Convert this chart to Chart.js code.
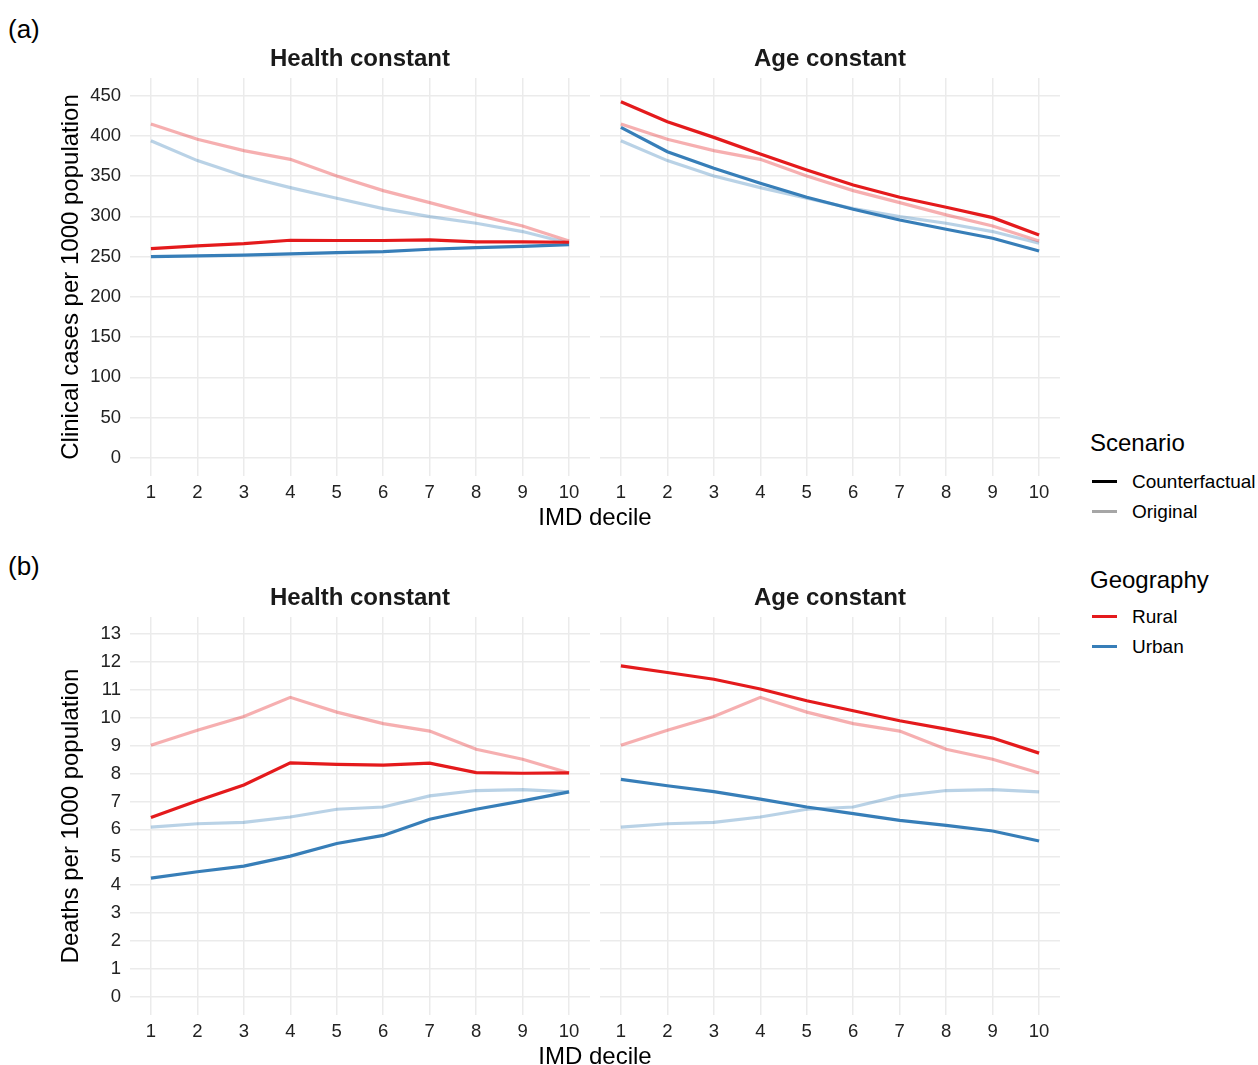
<!DOCTYPE html>
<html>
<head>
<meta charset="utf-8">
<script src="https://cdn.jsdelivr.net/npm/chart.js@4.4.1/dist/chart.umd.min.js"></script>
<style>
  body { margin: 0; background: #fff; font-family: "Liberation Sans", Arial, sans-serif; }
  #page { position: relative; width: 1258px; height: 1065px; overflow: hidden; }
  .box { position: absolute; }
  .lbl { position: absolute; line-height: 1; white-space: nowrap; color: #000; }
  .key { position: absolute; left: 1092px; width: 25px; height: 3px; }
</style>
</head>
<body>
<div id="page">
  <div class="lbl" style="left:8px; top:16px; font-size:26px;">(a)</div>
  <div class="lbl" style="left:8px; top:553px; font-size:26px;">(b)</div>

  <div class="box" style="left:50px; top:30px; width:540px; height:476px;"><canvas id="caseHealth"></canvas></div>
  <div class="box" style="left:600px; top:30px; width:460px; height:476px;"><canvas id="caseAge"></canvas></div>
  <div class="box" style="left:50px; top:569px; width:540px; height:476px;"><canvas id="deathHealth"></canvas></div>
  <div class="box" style="left:600px; top:569px; width:460px; height:476px;"><canvas id="deathAge"></canvas></div>

  <div class="lbl" style="left:445px; width:300px; text-align:center; top:505px; font-size:24px;">IMD decile</div>
  <div class="lbl" style="left:445px; width:300px; text-align:center; top:1044px; font-size:24px;">IMD decile</div>

  <!-- legend -->
  <div class="lbl" style="left:1090px; top:431px; font-size:24px;">Scenario</div>
  <div class="key" style="top:480px; background:#000;"></div>
  <div class="lbl" style="left:1132px; top:472px; font-size:19px;">Counterfactual</div>
  <div class="key" style="top:510px; background:#a6a6a6;"></div>
  <div class="lbl" style="left:1132px; top:502px; font-size:19px;">Original</div>

  <div class="lbl" style="left:1090px; top:568px; font-size:24px;">Geography</div>
  <div class="key" style="top:615px; background:#e41a1c;"></div>
  <div class="lbl" style="left:1132px; top:607px; font-size:19px;">Rural</div>
  <div class="key" style="top:645px; background:#377eb8;"></div>
  <div class="lbl" style="left:1132px; top:637px; font-size:19px;">Urban</div>
</div>

<script>
const FONT = "'Liberation Sans', Arial, sans-serif";

// x categories
const deciles = [1, 2, 3, 4, 5, 6, 7, 8, 9, 10];

// tick labels
const caseTicks = [0, 50, 100, 150, 200, 250, 300, 350, 400, 450];
const deathTicks = [0, 1, 2, 3, 4, 5, 6, 7, 8, 9, 10, 11, 12, 13];

// (a) clinical cases per 1000
const caseOrigRural = [414.8, 395.8, 381.7, 370.9, 350.2, 332.0, 317.1, 301.8, 288.1, 269.5];
const caseOrigUrban = [394.1, 369.3, 350.2, 335.7, 322.5, 309.6, 299.7, 291.4, 281.1, 266.6];
const caseHealthRural = [260.0, 263.3, 266.1, 270.3, 270.0, 270.0, 270.7, 268.2, 268.2, 267.8];
const caseHealthUrban = [250.0, 250.8, 251.7, 253.3, 255.0, 256.2, 259.1, 261.2, 262.8, 264.9];
const caseAgeRural = [442.5, 417.7, 398.2, 377.5, 357.7, 339.0, 323.7, 311.3, 298.4, 276.9];
const caseAgeUrban = [410.7, 380.4, 359.7, 341.1, 323.7, 308.8, 295.5, 284.0, 272.8, 257.0];

// (b) deaths per 1000
const deathOrigRural = [9.01, 9.55, 10.04, 10.73, 10.20, 9.79, 9.52, 8.87, 8.51, 8.02];
const deathOrigUrban = [6.08, 6.20, 6.25, 6.44, 6.72, 6.80, 7.20, 7.39, 7.42, 7.34];
const deathHealthRural = [6.42, 7.02, 7.59, 8.38, 8.33, 8.30, 8.37, 8.03, 8.01, 8.02];
const deathHealthUrban = [4.25, 4.48, 4.68, 5.04, 5.49, 5.78, 6.36, 6.72, 7.02, 7.34];
const deathAgeRural = [11.86, 11.62, 11.38, 11.03, 10.61, 10.25, 9.89, 9.59, 9.27, 8.73];
const deathAgeUrban = [7.79, 7.56, 7.35, 7.08, 6.80, 6.56, 6.32, 6.14, 5.94, 5.58];

const red = "#e41a1c";
const blue = "#377eb8";
const redPale = "rgba(228,26,28,0.35)";
const bluePale = "rgba(55,126,184,0.35)";
const gridColor = "#ebebeb";

// facet strip title, centred over the plot area (not the whole canvas)
const stripTitle = {
  id: "stripTitle",
  afterDraw(chart, args, opts) {
    const { ctx, chartArea } = chart;
    ctx.save();
    ctx.font = "bold 24px " + FONT;
    ctx.fillStyle = "#1a1a1a";
    ctx.textAlign = "center";
    ctx.textBaseline = "middle";
    ctx.fillText(opts.text, (chartArea.left + chartArea.right) / 2, chartArea.top - 19);
    ctx.restore();
  },
};

function lineSet(label, data, color) {
  return { label, data, borderColor: color, borderWidth: 3.2, pointRadius: 0, tension: 0, fill: false };
}

// one facet panel
function panel(id, title, cfRural, cfUrban, origRural, origUrban, yTicks, yMin, yMax, yTitle) {
  const showY = !!yTitle;
  return new Chart(document.getElementById(id), {
    type: "line",
    data: {
      labels: deciles,
      datasets: [
        lineSet("Counterfactual Rural", cfRural, red),
        lineSet("Counterfactual Urban", cfUrban, blue),
        lineSet("Original Rural", origRural, redPale),
        lineSet("Original Urban", origUrban, bluePale),
      ],
    },
    plugins: [stripTitle],
    options: {
      responsive: true,
      maintainAspectRatio: false,
      animation: false,
      layout: { padding: { top: 48 } },
      plugins: {
        legend: { display: false },
        tooltip: { enabled: false },
        stripTitle: { text: title },
      },
      scales: {
        x: {
          type: "linear",
          min: 0.55,
          max: 10.45,
          afterBuildTicks: (s) => { s.ticks = deciles.map((v) => ({ value: v })); },
          afterFit: (s) => { s.height = 30; },
          grid: { color: gridColor, lineWidth: 1.5, drawTicks: false },
          border: { display: false },
          ticks: { autoSkip: false, maxRotation: 0, padding: 6, color: "#222", font: { size: 18.5, family: FONT } },
        },
        y: {
          min: yMin,
          max: yMax,
          afterBuildTicks: (s) => { s.ticks = yTicks.map((v) => ({ value: v })); },
          afterFit: (s) => { s.width = showY ? 80 : 0; },
          grid: { color: gridColor, lineWidth: 1.5, drawTicks: false },
          border: { display: false },
          ticks: { display: showY, padding: 9, color: "#222", font: { size: 18.5, family: FONT } },
          title: {
            display: showY,
            text: yTitle || "",
            color: "#000",
            padding: { top: 6.6, bottom: 0 },
            font: { size: 24, family: FONT },
          },
        },
      },
    },
  });
}

panel("caseHealth", "Health constant", caseHealthRural, caseHealthUrban, caseOrigRural, caseOrigUrban,
  caseTicks, -22.75, 472.0, "Clinical cases per 1000 population");
panel("caseAge", "Age constant", caseAgeRural, caseAgeUrban, caseOrigRural, caseOrigUrban,
  caseTicks, -22.75, 472.0, null);
panel("deathHealth", "Health constant", deathHealthRural, deathHealthUrban, deathOrigRural, deathOrigUrban,
  deathTicks, -0.656, 13.61, "Deaths per 1000 population");
panel("deathAge", "Age constant", deathAgeRural, deathAgeUrban, deathOrigRural, deathOrigUrban,
  deathTicks, -0.656, 13.61, null);
</script>
</body>
</html>
